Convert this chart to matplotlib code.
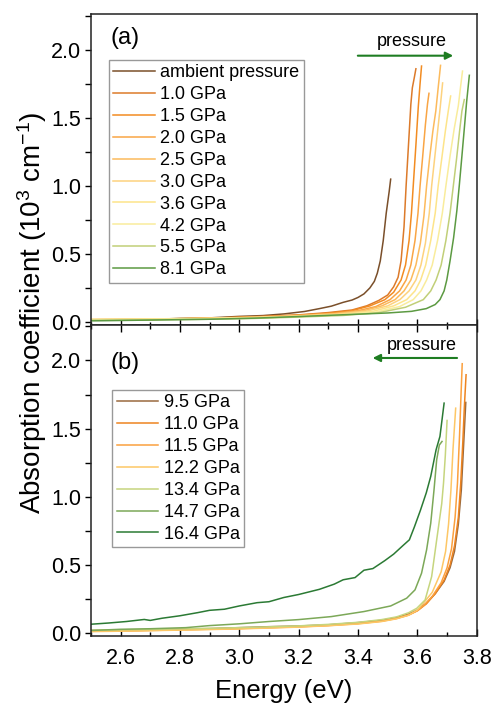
import matplotlib
matplotlib.use("Agg")
import matplotlib.pyplot as plt
from matplotlib.ticker import MultipleLocator

plt.rcParams['font.family'] = ['Liberation Sans', 'DejaVu Sans']
plt.rcParams['mathtext.default'] = 'regular'

# ---- panel (a): increasing pressure ----
labels_a = ['ambient pressure', '1.0 GPa', '1.5 GPa', '2.0 GPa', '2.5 GPa',
            '3.0 GPa', '3.6 GPa', '4.2 GPa', '5.5 GPa', '8.1 GPa']
colors_a = ['#7a4f2a', '#dc7a2a', '#f28c22', '#f9a545', '#fcba5c',
            '#fdd27e', '#fde48a', '#f9ec9c', '#c1cf78', '#5c9a42']

e_amb = [2.50, 2.60, 2.70, 2.80, 2.90, 3.00, 3.08, 3.15, 3.22, 3.27, 3.31, 3.35,
         3.38, 3.40, 3.42, 3.44, 3.455, 3.465, 3.475, 3.485, 3.495, 3.505, 3.51]
a_amb = [0.015, 0.019, 0.021, 0.028, 0.032, 0.043, 0.049, 0.061, 0.079, 0.100, 0.118, 0.146,
         0.163, 0.182, 0.208, 0.252, 0.300, 0.360, 0.450, 0.600, 0.800, 0.960, 1.050]

e_10 = [2.50, 2.70, 2.90, 3.05, 3.20, 3.30, 3.38, 3.43, 3.47, 3.50, 3.52, 3.535,
        3.545, 3.555, 3.562, 3.570, 3.578, 3.583, 3.590, 3.595]
a_10 = [0.015, 0.021, 0.029, 0.041, 0.054, 0.071, 0.090, 0.121, 0.160, 0.200, 0.260, 0.330,
        0.450, 0.700, 1.000, 1.300, 1.600, 1.720, 1.800, 1.860]

e_15 = [2.50, 2.70, 2.90, 3.05, 3.20, 3.30, 3.38, 3.44, 3.49, 3.52, 3.545, 3.560,
        3.572, 3.580, 3.586, 3.595, 3.603, 3.609, 3.614]
a_15 = [0.018, 0.022, 0.031, 0.038, 0.052, 0.066, 0.085, 0.120, 0.165, 0.220, 0.310, 0.420,
        0.600, 0.800, 1.000, 1.300, 1.580, 1.750, 1.880]

e_20 = [2.50, 2.70, 2.90, 3.05, 3.20, 3.32, 3.40, 3.46, 3.508, 3.54, 3.562, 3.578,
        3.592, 3.602, 3.609, 3.618, 3.627, 3.634, 3.639]
a_20 = [0.015, 0.020, 0.028, 0.036, 0.050, 0.065, 0.085, 0.115, 0.166, 0.230, 0.310, 0.420,
        0.600, 0.800, 1.000, 1.220, 1.450, 1.600, 1.680]

e_25 = [2.50, 2.70, 2.90, 3.05, 3.20, 3.32, 3.42, 3.48, 3.525, 3.555, 3.578, 3.595,
        3.610, 3.622, 3.631, 3.642, 3.652, 3.662, 3.670, 3.678]
a_25 = [0.020, 0.023, 0.028, 0.035, 0.048, 0.062, 0.085, 0.120, 0.166, 0.230, 0.310, 0.420,
        0.580, 0.780, 1.000, 1.220, 1.400, 1.550, 1.720, 1.885]

e_30 = [2.50, 2.70, 2.90, 3.05, 3.20, 3.33, 3.43, 3.50, 3.541, 3.572, 3.595, 3.612,
        3.627, 3.640, 3.648, 3.658, 3.668, 3.677, 3.685]
a_30 = [0.020, 0.024, 0.030, 0.036, 0.046, 0.060, 0.082, 0.120, 0.166, 0.230, 0.310, 0.420,
        0.580, 0.800, 1.000, 1.200, 1.400, 1.580, 1.756]

e_36 = [2.50, 2.70, 2.90, 3.05, 3.20, 3.35, 3.45, 3.52, 3.564, 3.592, 3.611, 3.628,
        3.645, 3.660, 3.670, 3.682, 3.694, 3.704, 3.712]
a_36 = [0.020, 0.023, 0.028, 0.034, 0.044, 0.058, 0.080, 0.120, 0.166, 0.230, 0.310, 0.420,
        0.600, 0.800, 1.000, 1.200, 1.400, 1.550, 1.660]

e_42 = [2.50, 2.70, 2.90, 3.05, 3.20, 3.35, 3.46, 3.54, 3.586, 3.612, 3.631, 3.650,
        3.668, 3.684, 3.696, 3.710, 3.724, 3.738, 3.745, 3.752]
a_42 = [0.018, 0.022, 0.026, 0.032, 0.042, 0.055, 0.075, 0.115, 0.166, 0.230, 0.310, 0.420,
        0.600, 0.800, 1.000, 1.220, 1.420, 1.590, 1.720, 1.843]

e_55 = [2.50, 2.70, 2.90, 3.05, 3.20, 3.35, 3.47, 3.56, 3.62, 3.645, 3.663, 3.680,
        3.696, 3.710, 3.721, 3.732, 3.742, 3.750, 3.758]
a_55 = [0.015, 0.018, 0.022, 0.028, 0.038, 0.050, 0.070, 0.110, 0.166, 0.230, 0.310, 0.420,
        0.600, 0.800, 1.000, 1.200, 1.400, 1.550, 1.634]

e_81 = [2.50, 2.70, 2.90, 3.05, 3.20, 3.35, 3.50, 3.58, 3.63, 3.66, 3.676, 3.690,
        3.699, 3.710, 3.722, 3.733, 3.741, 3.750, 3.758, 3.766, 3.775]
a_81 = [0.010, 0.016, 0.022, 0.030, 0.042, 0.055, 0.068, 0.080, 0.100, 0.130, 0.166, 0.230,
        0.310, 0.450, 0.620, 0.820, 1.000, 1.220, 1.420, 1.620, 1.812]

# ---- panel (b): above transition ----
labels_b = ['9.5 GPa', '11.0 GPa', '11.5 GPa', '12.2 GPa', '13.4 GPa', '14.7 GPa', '16.4 GPa']
colors_b = ['#9a6a3e', '#ee8420', '#fba03e', '#fdc766', '#c6d57e', '#7ca858', '#2b7a34']

e_95 = [2.50, 2.60, 2.70, 2.80, 2.90, 3.00, 3.10, 3.20, 3.30, 3.40, 3.48, 3.53,
        3.57, 3.60, 3.63, 3.66, 3.69, 3.71, 3.725, 3.738, 3.748, 3.755, 3.763]
a_95 = [0.020, 0.023, 0.026, 0.031, 0.034, 0.041, 0.048, 0.053, 0.062, 0.078, 0.095, 0.115,
        0.140, 0.170, 0.220, 0.290, 0.380, 0.480, 0.600, 0.800, 1.050, 1.350, 1.692]

e_110 = [2.50, 2.60, 2.70, 2.80, 2.90, 3.00, 3.10, 3.20, 3.30, 3.40, 3.48, 3.53,
         3.57, 3.60, 3.63, 3.66, 3.69, 3.71, 3.725, 3.738, 3.746, 3.753, 3.758, 3.764]
a_110 = [0.015, 0.018, 0.022, 0.026, 0.030, 0.035, 0.042, 0.048, 0.058, 0.072, 0.090, 0.110,
         0.135, 0.165, 0.215, 0.290, 0.390, 0.500, 0.640, 0.850, 1.100, 1.400, 1.650, 1.895]

e_115 = [2.50, 2.60, 2.70, 2.80, 2.90, 3.00, 3.10, 3.20, 3.30, 3.40, 3.48, 3.53,
         3.57, 3.60, 3.62, 3.65, 3.68, 3.70, 3.715, 3.727, 3.735, 3.742, 3.747, 3.751]
a_115 = [0.014, 0.017, 0.020, 0.025, 0.029, 0.034, 0.040, 0.047, 0.056, 0.070, 0.088, 0.108,
         0.132, 0.165, 0.200, 0.270, 0.370, 0.480, 0.620, 0.850, 1.100, 1.450, 1.750, 1.976]

e_122 = [2.50, 2.60, 2.70, 2.80, 2.90, 3.00, 3.10, 3.20, 3.30, 3.40, 3.48, 3.53,
         3.57, 3.60, 3.62, 3.65, 3.68, 3.695, 3.705, 3.713, 3.720, 3.729]
a_122 = [0.012, 0.015, 0.019, 0.023, 0.027, 0.032, 0.038, 0.045, 0.055, 0.068, 0.086, 0.106,
         0.132, 0.170, 0.220, 0.300, 0.450, 0.600, 0.800, 1.050, 1.350, 1.650]

e_134 = [2.50, 2.60, 2.70, 2.80, 2.90, 3.00, 3.10, 3.20, 3.30, 3.40, 3.48, 3.53,
         3.57, 3.598, 3.626, 3.648, 3.665, 3.682, 3.688, 3.694, 3.700]
a_134 = [0.022, 0.025, 0.028, 0.032, 0.036, 0.041, 0.047, 0.054, 0.065, 0.080, 0.100, 0.120,
         0.150, 0.183, 0.244, 0.415, 0.685, 0.950, 1.100, 1.300, 1.560]

e_147 = [2.50, 2.60, 2.70, 2.82, 2.90, 3.00, 3.10, 3.20, 3.31, 3.42, 3.51, 3.564,
         3.592, 3.614, 3.631, 3.645, 3.656, 3.665, 3.674, 3.683]
a_147 = [0.020, 0.029, 0.033, 0.041, 0.056, 0.069, 0.086, 0.100, 0.122, 0.159, 0.200, 0.257,
         0.318, 0.440, 0.611, 0.807, 1.051, 1.272, 1.380, 1.406]

e_164 = [2.50, 2.56, 2.62, 2.68, 2.70, 2.74, 2.80, 2.86, 2.90, 2.95, 3.00, 3.06,
         3.10, 3.15, 3.20, 3.27, 3.32, 3.35, 3.39, 3.42, 3.45, 3.49, 3.52, 3.55,
         3.573, 3.59, 3.61, 3.63, 3.645, 3.663, 3.676, 3.685, 3.690]
a_164 = [0.066, 0.075, 0.086, 0.101, 0.094, 0.110, 0.128, 0.151, 0.168, 0.176, 0.200, 0.224,
         0.231, 0.262, 0.284, 0.322, 0.360, 0.392, 0.408, 0.462, 0.474, 0.532, 0.580, 0.640,
         0.685, 0.780, 0.900, 1.030, 1.150, 1.345, 1.443, 1.600, 1.687]

curves_a = [(e_amb, a_amb), (e_10, a_10), (e_15, a_15), (e_20, a_20), (e_25, a_25),
            (e_30, a_30), (e_36, a_36), (e_42, a_42), (e_55, a_55), (e_81, a_81)]
curves_b = [(e_95, a_95), (e_110, a_110), (e_115, a_115), (e_122, a_122),
            (e_134, a_134), (e_147, a_147), (e_164, a_164)]

arrow_green = '#1e7d22'

fig = plt.figure(figsize=(4.91, 7.06), dpi=100)
ax1 = fig.add_axes([0.185, 0.5397, 0.786, 0.4401])
ax2 = fig.add_axes([0.185, 0.0992, 0.786, 0.4405])

for (e, a), lab, c in zip(curves_a, labels_a, colors_a):
    ax1.plot(e, a, color=c, lw=1.1, label=lab)
for (e, a), lab, c in zip(curves_b, labels_b, colors_b):
    ax2.plot(e, a, color=c, lw=1.1, label=lab)

for ax in (ax1, ax2):
    ax.set_xlim(2.5, 3.8)
    ax.set_ylim(-0.02, 2.26)
    ax.xaxis.set_major_locator(MultipleLocator(0.2))
    ax.xaxis.set_minor_locator(MultipleLocator(0.1))
    ax.yaxis.set_major_locator(MultipleLocator(0.5))
    ax.yaxis.set_minor_locator(MultipleLocator(0.25))
    ax.yaxis.set_major_formatter(plt.FormatStrFormatter('%.1f'))
    ax.tick_params(axis='y', which='both', direction='out', length=4.3, width=1.0,
                   labelsize=15.5, pad=2.5)
    for s in ax.spines.values():
        s.set_linewidth(1.1)
        s.set_color('#222222')

ax1.tick_params(axis='x', which='major', direction='in', length=4.5, width=1.0,
                labelbottom=False)
ax1.tick_params(axis='x', which='minor', direction='in', length=2.3, width=1.0)
ax2.tick_params(axis='x', which='major', direction='in', length=5.3, width=1.0,
                top=True, labelsize=15.5, pad=9)
ax2.tick_params(axis='x', which='minor', direction='in', length=3.0, width=1.0, top=True)
ax2.set_xticks([2.6, 2.8, 3.0, 3.2, 3.4, 3.6, 3.8])
ax2.xaxis.set_major_formatter(plt.FormatStrFormatter('%.1f'))

ax1.legend(loc='upper left', bbox_to_anchor=(0.047, 0.853), borderaxespad=0,
           fontsize=13, frameon=True, fancybox=False, edgecolor='#999999',
           framealpha=1, handlelength=2.3, handletextpad=0.3, labelspacing=0.27,
           borderpad=0.25)
ax2.legend(loc='upper left', bbox_to_anchor=(0.055, 0.791), borderaxespad=0,
           fontsize=13, frameon=True, fancybox=False, edgecolor='#999999',
           framealpha=1, handlelength=2.3, handletextpad=0.3, labelspacing=0.27,
           borderpad=0.25)

ax1.text(0.05, 0.924, '(a)', transform=ax1.transAxes, fontsize=17, va='center')
ax2.text(0.05, 0.879, '(b)', transform=ax2.transAxes, fontsize=17, va='center')

ax1.text(3.582, 2.057, 'pressure', fontsize=13, ha='center', va='center')
ax1.annotate('', xy=(3.73, 1.956), xytext=(3.39, 1.956),
             arrowprops=dict(arrowstyle='-|>', color=arrow_green, lw=1.5, mutation_scale=11))
ax2.text(3.616, 2.108, 'pressure', fontsize=13, ha='center', va='center')
ax2.annotate('', xy=(3.44, 2.018), xytext=(3.743, 2.018),
             arrowprops=dict(arrowstyle='-|>', color=arrow_green, lw=1.5, mutation_scale=11))

fig.text(0.065, 0.557, 'Absorption coefficient (10$^3$ cm$^{-1}$)', rotation=90,
         fontsize=20, ha='center', va='center')
fig.text(0.578, 0.021, 'Energy (eV)', fontsize=18.5, ha='center', va='center')

fig.savefig('out.png', dpi=100)
